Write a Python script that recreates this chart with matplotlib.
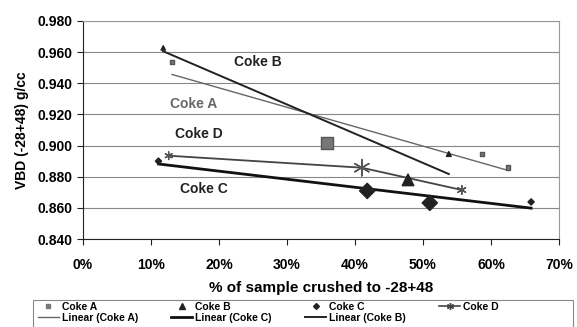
import numpy as np
import matplotlib.pyplot as plt
from matplotlib.ticker import FuncFormatter
from matplotlib.patches import Rectangle

plt.rcParams['font.family'] = ['Liberation Sans', 'DejaVu Sans']

# data (x in %, y in g/cc)
a_x = [13.1, 35.9, 58.7, 62.5]
a_y = [0.9537, 0.9015, 0.8946, 0.8860]
a_s = [10, 80, 10, 10]
b_x = [11.8, 47.8, 53.8]
b_y = [0.9627, 0.8780, 0.8946]
b_s = [10, 70, 12]
c_x = [11.1, 41.8, 51.0, 65.9]
c_y = [0.8900, 0.8709, 0.8632, 0.8638]
c_s = [10, 60, 60, 10]
d_x = [12.6, 41.0, 55.7]
d_y = [0.8935, 0.8858, 0.8715]
d_s = [30, 140, 40]

labels = [('Coke B', 25.7, 0.9537, '#222222'),
          ('Coke A', 16.2, 0.9267, '#666666'),
          ('Coke D', 17.0, 0.9075, '#222222'),
          ('Coke C', 17.8, 0.8720, '#222222')]

fig = plt.figure(figsize=(5.77, 3.27), dpi=100)
ax = fig.add_axes([0.1438, 0.269, 0.825, 0.6668])

def trend(x, y):
    k, b = np.polyfit(x, y, 1)
    xs = np.array([min(x), max(x)])
    return xs, k * xs + b

# trend lines
tx, ty = trend(a_x, a_y)
l_a, = ax.plot(tx, ty, color='#666666', lw=1.0, zorder=3)
tx, ty = trend(c_x, c_y)
l_c, = ax.plot(tx, ty, color='#111111', lw=2.0, zorder=3)
tx, ty = trend(b_x, b_y)
l_b, = ax.plot(tx, ty, color='#222222', lw=1.4, zorder=3)

# series
ax.scatter(a_x, a_y, s=a_s, marker='s', color='#777777', edgecolor='#555555', zorder=4)
ax.scatter(b_x, b_y, s=b_s, marker='^', color='#222222', zorder=4)
ax.scatter(c_x, c_y, s=c_s, marker='D', color='#222222', zorder=4)
ax.plot(d_x, d_y, color='#444444', lw=1.3, zorder=3)
ax.scatter(d_x, d_y, s=d_s, marker=(6, 2, 0), color='#555555', lw=1.0, zorder=4)

# legend proxies
h_a, = ax.plot([], [], ls='none', marker='s', ms=3, color='#777777')
h_b, = ax.plot([], [], ls='none', marker='^', ms=4, color='#222222')
h_c, = ax.plot([], [], ls='none', marker='D', ms=3, color='#222222')
h_d, = ax.plot([], [], color='#444444', lw=1.2, marker=(6, 2, 0), ms=5)

for txt, x, y, col in labels:
    ax.text(x, y, txt, color=col, fontsize=10, fontweight='bold', ha='center', va='center')

ax.set_xlim(0, 70)
ax.set_ylim(0.84, 0.98)
ax.set_xticks(np.arange(0, 71, 10))
ax.set_yticks(np.arange(0.84, 0.981, 0.02))
ax.xaxis.set_major_formatter(FuncFormatter(lambda v, p: f'{v:.0f}%'))
ax.yaxis.set_major_formatter(FuncFormatter(lambda v, p: f'{v:.3f}'))
ax.tick_params(labelsize=10, length=4, width=0.8, color='#222222')
for lab in ax.get_xticklabels() + ax.get_yticklabels():
    lab.set_fontweight('bold')
ax.tick_params(axis='x', pad=10)
ax.grid(axis='y', color='#888888', lw=0.8)
ax.set_axisbelow(True)
ax.spines['top'].set_color('#999999')
ax.spines['right'].set_color('#999999')
ax.spines['left'].set_color('#222222')
ax.spines['bottom'].set_color('#222222')

ax.set_xlabel('% of sample crushed to -28+48', fontsize=11, fontweight='bold', labelpad=6)
ax.set_ylabel('VBD (-28+48) g/cc', fontsize=10, fontweight='bold', labelpad=6)

handles = [h_a, l_a, h_b, l_c, h_c, l_b, h_d]
names = ['Coke A', 'Linear (Coke A)', 'Coke B', 'Linear (Coke C)', 'Coke C', 'Linear (Coke B)', 'Coke D']
leg = fig.legend(handles, names, ncol=4, loc='upper left',
                 bbox_to_anchor=(0.062, 0.083),
                 prop={'weight': 'bold', 'size': 7.5}, frameon=False,
                 handlelength=2.0, handletextpad=0.3, columnspacing=3.2,
                 borderpad=0.2, labelspacing=0.1, borderaxespad=0)
fig.add_artist(Rectangle((33 / 577, -0.01), 540 / 577, 0.093, transform=fig.transFigure,
                         fill=False, edgecolor='#888888', lw=0.8))

plt.savefig('out.png', dpi=100)
